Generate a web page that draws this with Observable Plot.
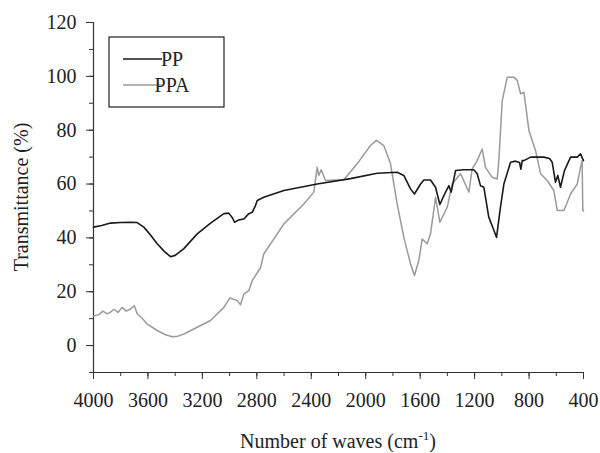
<!DOCTYPE html>
<html><head><meta charset="utf-8">
<script src="https://cdn.jsdelivr.net/npm/d3@7"></script>
<script src="https://cdn.jsdelivr.net/npm/@observablehq/plot@0.6"></script>
<style>body{margin:0;background:#fff} svg, svg text{font-family:"Liberation Serif","DejaVu Serif",serif !important;}</style>
</head><body><div id="chart"></div>
<script>
const ppWave = [4000,3940,3875,3800,3730,3679,3630,3580,3532,3480,3434,3400,3336,3238,3140,3042,3006,2980,2964,2932,2895,2859,2834,2810,2797,2749,2601,2357,2112,1916,1769,1720,1671,1642,1597,1573,1524,1487,1455,1426,1389,1372,1340,1279,1206,1181,1157,1132,1096,1060,1039,1010,985,936,900,870,860,850,838,789,691,650,630,606,589,569,540,495,446,422,400];
const ppT    = [44,44.6,45.5,45.7,45.8,45.7,44,41,37.8,35,33,33.5,36,41.5,45.5,49,49.2,47.5,45.8,46.7,47,49,49.5,52,53.9,55.1,57.6,60,62,64,64.4,63.2,58.2,56.3,60,61.5,61.5,58.8,52.4,55.7,59.4,57,65,65.3,65.3,63.8,59.4,58.8,47.7,43,40.2,51.4,60,68.1,68.5,68,65.5,68.7,68.7,70,70,69.5,68.1,60.7,63.2,58.8,65,70,70,71.2,68.7];
const ppaWave = [4000,3960,3930,3900,3875,3850,3820,3790,3760,3728,3700,3679,3650,3605,3532,3470,3422,3380,3336,3238,3140,3042,2998,2944,2920,2895,2859,2834,2773,2749,2601,2455,2381,2357,2345,2327,2295,2161,2063,1965,1921,1867,1818,1769,1720,1671,1642,1610,1585,1548,1524,1487,1455,1401,1365,1303,1242,1218,1181,1144,1120,1071,1034,1022,997,960,911,887,862,838,801,752,715,667,618,593,544,495,446,422,410,405,400];
const ppaT    = [11,11.5,12.8,11.8,12.4,13.5,12.3,14.2,12.8,13.6,14.8,11.8,10.5,8,5.6,4,3.3,3.5,4.3,6.8,9.3,14.2,17.7,16.7,15.2,19.2,20.4,24.1,28.9,34,45.2,52.6,57,66.2,63.2,65.3,61.3,61.6,67.5,74.3,76.2,74.3,67.5,52.6,40.2,30.4,26,31.6,39.6,37.8,41.5,55.1,45.8,51.4,60,63.8,57,65.6,68.7,73,66.2,62.5,61.9,68.7,91,99.7,99.7,98.5,93.5,94.1,79.9,72.4,63.8,61.3,57.6,50.2,50.2,56.3,60,66.2,68.7,50.2,50];
const seriesNames = ["PP", "PPA"];
const seriesColors = ["#1a1a1a", "#9a9a9a"];
const xMajor = [4000,3600,3200,2800,2400,2000,1600,1200,800,400];
const xMinor = d3.range(400, 4001, 200);
const yMajor = [0,20,40,60,80,100,120];
const yMinor = d3.range(-10, 121, 10);

const pp = ppWave.map((w,i)=>({w, t: ppT[i]}));
const ppa = ppaWave.map((w,i)=>({w, t: ppaT[i]}));

const font = "Liberation Serif, DejaVu Serif, serif";
const chart = Plot.plot({
  width: 600, height: 453,
  marginLeft: 93, marginRight: 17, marginTop: 22, marginBottom: 81,
  style: {fontFamily: font, fontSize: "20px", color: "#222", background: "#fff"},
  x: {domain: [4000, 400]},
  y: {domain: [-10, 120]},
  marks: [
    Plot.axisY(yMinor, {tickSize: 4, tickFormat: () => "", label: null, stroke: "#333"}),
    Plot.axisY(yMajor, {tickSize: 7, tickPadding: 10, label: null, stroke: "#333", tickFormat: d => String(d)}),
    Plot.axisX(xMinor, {tickSize: 4, tickFormat: () => "", label: null, stroke: "#333"}),
    Plot.axisX(xMajor, {tickSize: 7, tickPadding: 13, label: null, stroke: "#333", tickFormat: d => String(d)}),
    Plot.ruleX([4000], {stroke: "#333", strokeWidth: 1.2}),
    Plot.ruleY([-10], {stroke: "#333", strokeWidth: 1.2}),
    Plot.line(ppa, {x: "w", y: "t", stroke: seriesColors[1], strokeWidth: 1.5}),
    Plot.line(pp, {x: "w", y: "t", stroke: seriesColors[0], strokeWidth: 1.6})
  ]
});
document.getElementById("chart").append(chart);

const svg = d3.select(chart);
const xt = svg.append("text").attr("x", 338).attr("y", 448).attr("text-anchor", "middle")
  .attr("font-size", 20).attr("fill", "#222");
xt.append("tspan").text("Number of waves (cm");
xt.append("tspan").attr("font-size", 13).attr("dy", -8).text("-1");
xt.append("tspan").attr("dy", 8).text(")");
svg.append("text").attr("transform", "translate(28,197) rotate(-90)").attr("text-anchor", "middle")
  .attr("font-size", 20).attr("fill", "#222").text("Transmittance (%)");
const lg = svg.append("g");
lg.append("rect").attr("x", 109).attr("y", 37).attr("width", 115).attr("height", 70)
  .attr("fill", "#fff").attr("stroke", "#222").attr("stroke-width", 1.2);
seriesNames.forEach((n, i) => {
  const y = 59 + i * 26;
  lg.append("line").attr("x1", 123).attr("x2", 162).attr("y1", y).attr("y2", y)
    .attr("stroke", seriesColors[i]).attr("stroke-width", 1.6);
  lg.append("text").attr("x", 172).attr("y", y + 7).attr("font-size", 20)
    .attr("fill", "#222").text(n);
});
</script></body></html>
